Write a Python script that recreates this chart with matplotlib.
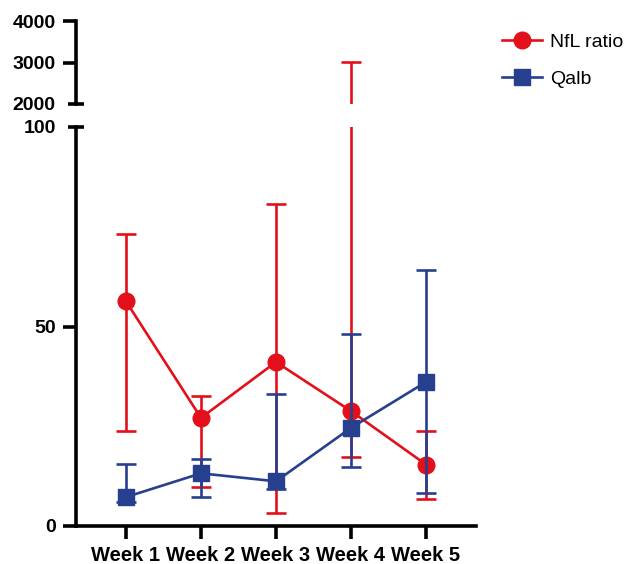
import matplotlib
matplotlib.use('Agg')
import matplotlib.pyplot as plt
from matplotlib.lines import Line2D
import numpy as np

plt.rcParams['font.family'] = ['Liberation Sans', 'DejaVu Sans']

# Data
weeks = ['Week 1', 'Week 2', 'Week 3', 'Week 4', 'Week 5']
nfl_mean = [56.3, 27.1, 41.1, 28.8, 15.4]
nfl_upper = [73.3, 32.6, 80.7, 3012, 23.7]
nfl_lower = [23.7, 9.7, 3.3, 17.3, 6.7]
qalb_mean = [7.25, 13.2, 11.2, 24.6, 36.1]
qalb_upper = [15.6, 16.9, 33.2, 48.2, 64.2]
qalb_lower = [6.0, 7.25, 9.25, 14.75, 8.3]

red = '#e3101b'
blue = '#26408f'
lw = 1.9
axw = 2.6
fs = 14

fig = plt.figure(figsize=(6.32, 5.64), dpi=100)
ax_top = fig.add_axes([76 / 632, 1 - 104 / 564, 400 / 632, 83 / 564])
ax = fig.add_axes([76 / 632, 1 - 526 / 564, 400 / 632, 399 / 564])

x = np.arange(1, len(weeks) + 1)


def draw(a):
    nfl_err = [np.array(nfl_mean) - np.array(nfl_lower), np.array(nfl_upper) - np.array(nfl_mean)]
    qalb_err = [np.array(qalb_mean) - np.array(qalb_lower), np.array(qalb_upper) - np.array(qalb_mean)]
    a.errorbar(x, nfl_mean, yerr=nfl_err, color=red, marker='o', markersize=12,
               lw=lw, elinewidth=lw, capsize=7, capthick=lw, zorder=2)
    a.errorbar(x, qalb_mean, yerr=qalb_err, color=blue, marker='s', markersize=11,
               lw=lw, elinewidth=lw, capsize=7, capthick=lw, zorder=3)


draw(ax)
draw(ax_top)

for a in (ax, ax_top):
    a.set_xlim(1 - 2 / 3, 5 + 2 / 3)
    for s in ('top', 'right'):
        a.spines[s].set_visible(False)
    a.spines['left'].set_linewidth(axw)
    a.tick_params(axis='y', width=axw, length=9.5, labelsize=fs, pad=5)

ax.set_ylim(0, 100)
ax.set_yticks([0, 50, 100])
ax.set_yticklabels(['0', '50', '100'], fontweight='bold')
ax.yaxis.get_major_ticks()[-1].tick1line.set_visible(False)
ax.spines['bottom'].set_linewidth(axw)
ax.set_xticks(x)
ax.set_xticklabels(weeks, fontweight='bold', fontsize=14.5)
ax.tick_params(axis='x', width=axw, length=9.5, pad=5)

ax_top.set_ylim(2000, 4000)
ax_top.set_yticks([2000, 3000, 4000])
ax_top.set_yticklabels(['2000', '3000', '4000'], fontweight='bold')
ax_top.yaxis.get_major_ticks()[0].tick1line.set_visible(False)
ax_top.spines['bottom'].set_visible(False)
ax_top.set_xticks([])
ax_top.patch.set_visible(False)

# break marks on the y axis
ax.plot([-0.02, 0.02], [1, 1], transform=ax.transAxes, color='black', lw=axw,
        clip_on=False, solid_capstyle='butt')
ax_top.plot([-0.02, 0.02], [0, 0], transform=ax_top.transAxes, color='black', lw=axw,
            clip_on=False, solid_capstyle='butt')

handles = [Line2D([], [], color=red, marker='o', markersize=12, lw=lw),
           Line2D([], [], color=blue, marker='s', markersize=11, lw=lw)]
fig.legend(handles, ['NfL ratio', 'Qalb'], loc='upper left',
           bbox_to_anchor=(484 / 632, 1 - 16 / 564),
           frameon=False, fontsize=fs, labelspacing=1.0, handlelength=2.1,
           handletextpad=0.4)

fig.savefig('out.png', dpi=100)
